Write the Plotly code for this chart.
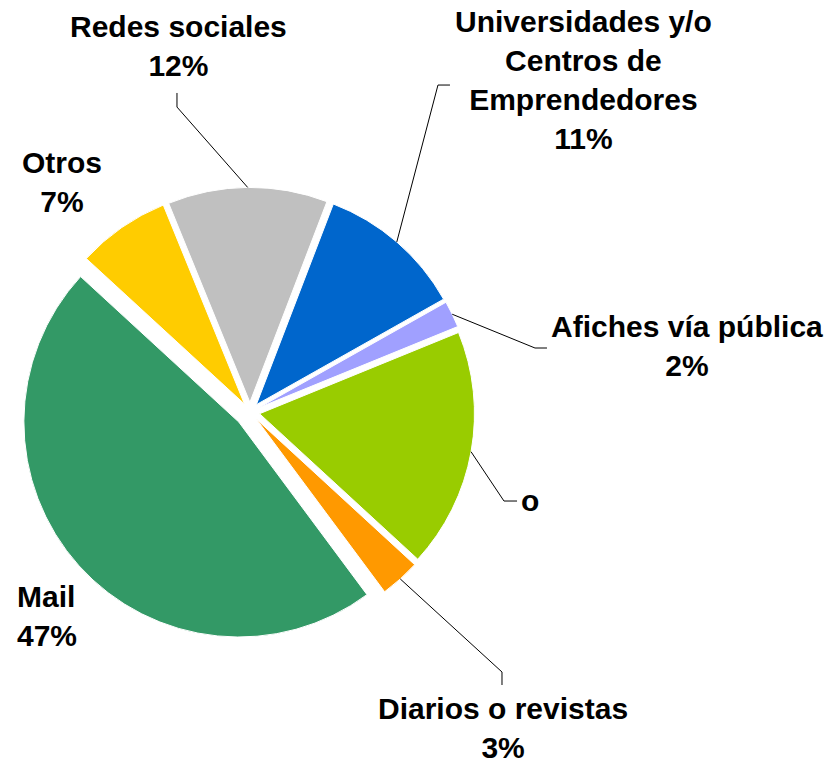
import math
import plotly.graph_objects as go

# data, clockwise from the first slice
categories = ["Universidades y/o Centros de Emprendedores", "Afiches vía pública", "o",
              "Diarios o revistas", "Mail", "Otros", "Redes sociales"]
values = [11, 2, 18, 3, 47, 7, 12]
label_texts = ["Universidades y/o<br>Centros de<br>Emprendedores<br>11%",
               "Afiches vía pública<br>2%",
               "o",
               "Diarios o revistas<br>3%",
               "Mail<br>47%",
               "Otros<br>7%",
               "Redes sociales<br>12%"]

colors = ["#0066CC", "#A0A0FF", "#99CC00", "#FF9900", "#339966", "#FFCC00", "#C0C0C0"]
pulls = [0.045, 0.045, 0.045, 0.045, 0.07, 0.045, 0.045]

W, H = 827, 764
CX, CY = 250, 412      # pie centre in px (from top-left)
HALF = 230             # half size of the pie domain in px
ROT = 21

# label placement (px), style only
label_pos = {
    0: (583, 80, "center"),
    1: (687, 346, "center"),
    2: (530, 500, "center"),
    3: (503, 728, "center"),
    4: (15, 616, "left"),
    5: (62, 182, "center"),
    6: (178, 46, "center"),
}
# leader line elbows (px) for the slices that have one
elbows = {
    0: [(438, 85), (450, 85)],
    1: [(535, 348), (547, 348)],
    2: [(504, 501), (517, 501)],
    3: [(502, 672), (502, 685)],
    6: [(177, 107), (177, 93)],
}


def px(x, y):
    return x / W, 1 - y / H


fig = go.Figure(go.Pie(
    labels=categories,
    values=values,
    sort=False,
    direction="clockwise",
    rotation=ROT,
    pull=pulls,
    marker=dict(colors=colors, line=dict(color="white", width=1)),
    textinfo="none",
    hoverinfo="label+percent",
    domain=dict(x=[(CX - HALF) / W, (CX + HALF) / W],
                y=[1 - (CY + HALF) / H, 1 - (CY - HALF) / H]),
    showlegend=False,
))

r = HALF / (1 + max(pulls))
total = sum(values)
cum = 0
shapes = []
annotations = []
for i, v in enumerate(values):
    mid = math.radians(ROT + (cum + v / 2) / total * 360)
    cum += v
    if i in elbows:
        rr = r * (1 + pulls[i])
        sx = CX + rr * math.sin(mid)
        sy = CY - rr * math.cos(mid)
        pts = [(sx, sy)] + elbows[i]
        path = "M " + " L ".join("%.4f,%.4f" % px(x, y) for x, y in pts)
        shapes.append(dict(type="path", path=path, xref="paper", yref="paper",
                           line=dict(color="black", width=1)))
    lx, ly, al = label_pos[i]
    ax_, ay_ = px(lx, ly)
    annotations.append(dict(
        x=ax_, y=ay_, xref="paper", yref="paper", showarrow=False,
        text="<b>" + label_texts[i] + "</b>",
        xanchor="left" if al == "left" else "center", yanchor="middle",
        align=al,
        font=dict(family="Liberation Sans, Arial, sans-serif", size=30, color="black"),
    ))

fig.update_layout(
    width=W, height=H,
    margin=dict(l=0, r=0, t=0, b=0),
    paper_bgcolor="white",
    plot_bgcolor="white",
    shapes=shapes,
    annotations=annotations,
)

# drop the default page margin so the figure sits at the window corner
fig.write_html("out.html", config={"displayModeBar": False},
               post_script="document.body.style.margin='0';")
